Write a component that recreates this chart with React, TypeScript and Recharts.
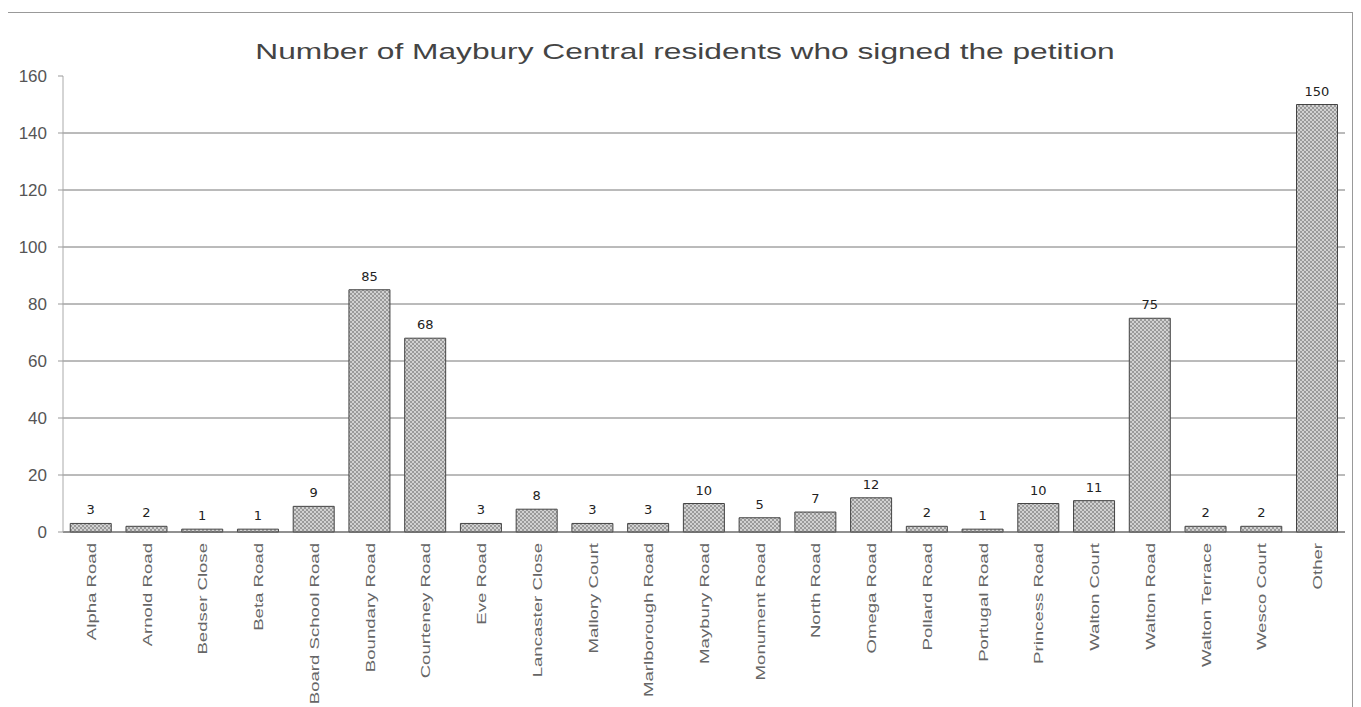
import { BarChart, Bar, XAxis, YAxis, CartesianGrid, LabelList } from "recharts";

const streets = [
  "Alpha Road", "Arnold Road", "Bedser Close", "Beta Road", "Board School Road",
  "Boundary Road", "Courteney Road", "Eve Road", "Lancaster Close", "Mallory Court",
  "Marlborough Road", "Maybury Road", "Monument Road", "North Road", "Omega Road",
  "Pollard Road", "Portugal Road", "Princess Road", "Walton Court", "Walton Road",
  "Walton Terrace", "Wesco Court", "Other",
];
const signatures = [3, 2, 1, 1, 9, 85, 68, 3, 8, 3, 3, 10, 5, 7, 12, 2, 1, 10, 11, 75, 2, 2, 150];
const yTicks = [0, 20, 40, 60, 80, 100, 120, 140, 160];
const gridValues = [0, 20, 40, 60, 80, 100, 120, 140];

const data = streets.map((name, i) => ({ name, value: signatures[i] }));

function StreetTick(props: any) {
  const { x, y, payload } = props;
  return (
    <g transform={`translate(${x + 5},${y + 3})`}>
      <text
        transform="rotate(-90) scale(1.55,1)"
        textAnchor="end"
        fontSize={12}
        fill="#666"
        fontFamily="Liberation Sans, Arial, sans-serif"
      >
        {payload.value}
      </text>
    </g>
  );
}

export default function App() {
  return (
    <div
      style={{
        position: "relative",
        width: 1345,
        height: 699,
        borderTop: "1px solid #999",
        borderRight: "1px solid #999",
        boxSizing: "border-box",
        marginTop: 4,
        fontFamily: "Liberation Sans, Arial, sans-serif",
      }}
    >
      <div
        style={{
          position: "absolute",
          top: 26,
          left: 0,
          width: 1354,
          textAlign: "center",
          fontSize: 22,
          color: "#444",
          transform: "scaleX(1.44)",
          transformOrigin: "677px 0",
        }}
      >
        Number of Maybury Central residents who signed the petition
      </div>
      <BarChart
        width={1344}
        height={695}
        data={data}
        margin={{ top: 63, right: 7, left: 0, bottom: 0 }}
        barCategoryGap="13%"
      >
        <defs>
          <pattern id="dots" width="4" height="4" patternUnits="userSpaceOnUse">
            <rect width="4" height="4" fill="#9a9a9a" />
            <circle cx="1" cy="1" r="0.9" fill="#ececec" />
            <circle cx="3" cy="3" r="0.9" fill="#ececec" />
          </pattern>
        </defs>
        <CartesianGrid vertical={false} stroke="#777" horizontalValues={gridValues} />
        <XAxis
          dataKey="name"
          interval={0}
          tick={<StreetTick />}
          tickLine={false}
          axisLine={{ stroke: "#666" }}
          height={176}
        />
        <YAxis
          domain={[0, 160]}
          ticks={yTicks}
          width={55}
          tickSize={5}
          tickMargin={11}
          axisLine={{ stroke: "#aaa" }}
          tickLine={{ stroke: "#999" }}
          tick={{ fontSize: 17, fill: "#555" }}
        />
        <Bar dataKey="value" fill="url(#dots)" stroke="#444" strokeWidth={1} isAnimationActive={false}>
          <LabelList
            dataKey="value"
            position="top"
            offset={9}
            fontSize={13}
            fill="#222"
            fontFamily="DejaVu Sans, sans-serif"
          />
        </Bar>
      </BarChart>
    </div>
  );
}
